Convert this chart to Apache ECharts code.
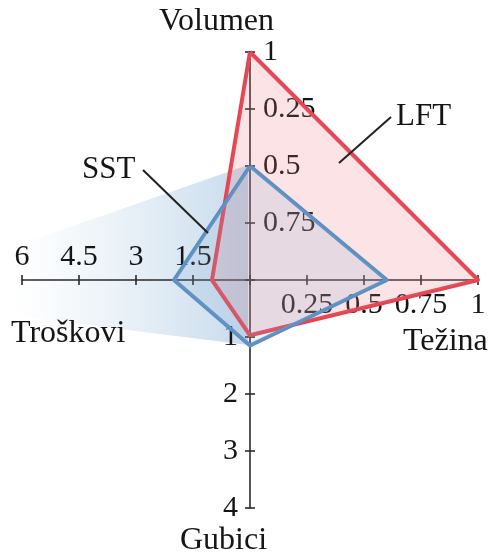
<!DOCTYPE html>
<html>
<head>
<meta charset="utf-8">
<script src="https://cdn.jsdelivr.net/npm/echarts@6/dist/echarts.min.js"></script>
<style>
  html, body { margin: 0; padding: 0; background: #fff; }
  #chart { width: 495px; height: 554px; }
</style>
</head>
<body>
<div id="chart"></div>
<script>
// osi (redom suprotno od kazaljke sata, kako ih radar crta)
const axisNames = ["Volumen", "Troškovi", "Gubici", "Težina"];
const axisMax = [1, 6, 4, 1];
// oznake podjela od središta prema van
const volumenTicks = ["", "0.75", "0.5", "0.25", "1"];
const troskoviTicks = ["", "1.5", "3", "4.5", "6"];
const gubiciTicks = ["", "1", "2", "3", "4"];
const tezinaTicks = ["", "0.25", "0.5", "0.75", "1"];
// vrijednosti serija
const lftValues = [1, 1.0, 0.97, 1];
const sstValues = [0.5, 2.0, 1.15, 0.6];

const FONT = "Liberation Serif";
const TXT = "#151515";

const chart = echarts.init(document.getElementById("chart"));

function tickFmt(labels, max) {
  return (v) => labels[Math.round((v / max) * 4)] || "";
}

const labelBase = { show: true, fontFamily: FONT, fontSize: 30, color: TXT, margin: -12 };
const labelSide = [
  { align: "left", verticalAlign: "middle", margin: -13 },  // Volumen - desno od osi
  { align: "center", verticalAlign: "bottom", margin: -8 }, // Troškovi - iznad
  { align: "right", verticalAlign: "middle", margin: -12 }, // Gubici - lijevo
  { align: "center", verticalAlign: "top", margin: -10 },   // Težina - ispod
];
const tickLabels = [volumenTicks, troskoviTicks, gubiciTicks, tezinaTicks];

const indicators = axisNames.map((n, i) => ({
  name: n,
  min: 0,
  max: axisMax[i],
  axisLabel: Object.assign({}, labelBase, labelSide[i], {
    formatter: tickFmt(tickLabels[i], axisMax[i]),
  }),
}));

const radarBase = {
  center: [250, 280],
  radius: 228,
  startAngle: 90,
  shape: "polygon",
  splitNumber: 4,
  splitLine: { show: false },
  splitArea: { show: false },
  axisName: { show: false },
};

function nameTitle(text, left, top, size) {
  return {
    text: text,
    left: left,
    top: top,
    padding: 0,
    textStyle: { fontFamily: FONT, fontSize: size || 32, fontWeight: "normal", color: TXT },
  };
}

const option = {
  backgroundColor: "#fff",
  animation: false,
  title: [
    nameTitle("Volumen", 159, 6),
    nameTitle("Troškovi", 11, 318),
    nameTitle("Težina", 403, 326),
    nameTitle("Gubici", 180, 525),
    nameTitle("LFT", 396, 101, 31),
    nameTitle("SST", 82, 154, 31),
  ],
  // sjena iza SST poligona i linije oznaka
  graphic: [
    {
      type: "polygon",
      z: -10,
      silent: true,
      shape: { points: [[15, 246], [248, 165], [248, 345], [15, 316]] },
      style: {
        fill: new echarts.graphic.LinearGradient(0, 0, 1, 0, [
          { offset: 0, color: "rgba(200,220,236,0)" },
          { offset: 1, color: "rgba(175,203,228,0.7)" },
        ]),
      },
    },
    {
      type: "line",
      z: 100,
      shape: { x1: 391, y1: 117, x2: 339, y2: 163 },
      style: { stroke: "#222", lineWidth: 2 },
    },
    {
      type: "line",
      z: 100,
      shape: { x1: 143, y1: 170, x2: 208, y2: 233 },
      style: { stroke: "#222", lineWidth: 2 },
    },
  ],
  radar: [
    Object.assign({}, radarBase, {
      indicator: indicators,
      axisLine: { lineStyle: { color: "#2a2a2a", width: 1.6 } },
      axisTick: { show: true, length: 5, lineStyle: { color: "#2a2a2a", width: 1.6 } },
    }),
    // druga polovica crtica podjele
    Object.assign({}, radarBase, {
      indicator: axisNames.map((n, i) => ({ name: n, min: 0, max: axisMax[i] })),
      axisLine: { show: false },
      axisLabel: { show: false },
      axisTick: { show: true, length: -5, lineStyle: { color: "#2a2a2a", width: 1.6 } },
    }),
  ],
  series: [
    {
      name: "LFT",
      type: "radar",
      radarIndex: 0,
      symbol: "none",
      lineStyle: { color: "#e5434f", width: 4 },
      areaStyle: { color: "rgba(240,110,120,0.28)" },
      data: [{ value: lftValues, name: "LFT" }],
    },
    {
      name: "SST",
      type: "radar",
      radarIndex: 0,
      symbol: "none",
      lineStyle: { color: "#5b90c2", width: 4 },
      areaStyle: { color: "rgba(130,170,212,0.25)" },
      data: [{ value: sstValues, name: "SST" }],
    },
  ],
};

chart.setOption(option);
</script>
</body>
</html>
